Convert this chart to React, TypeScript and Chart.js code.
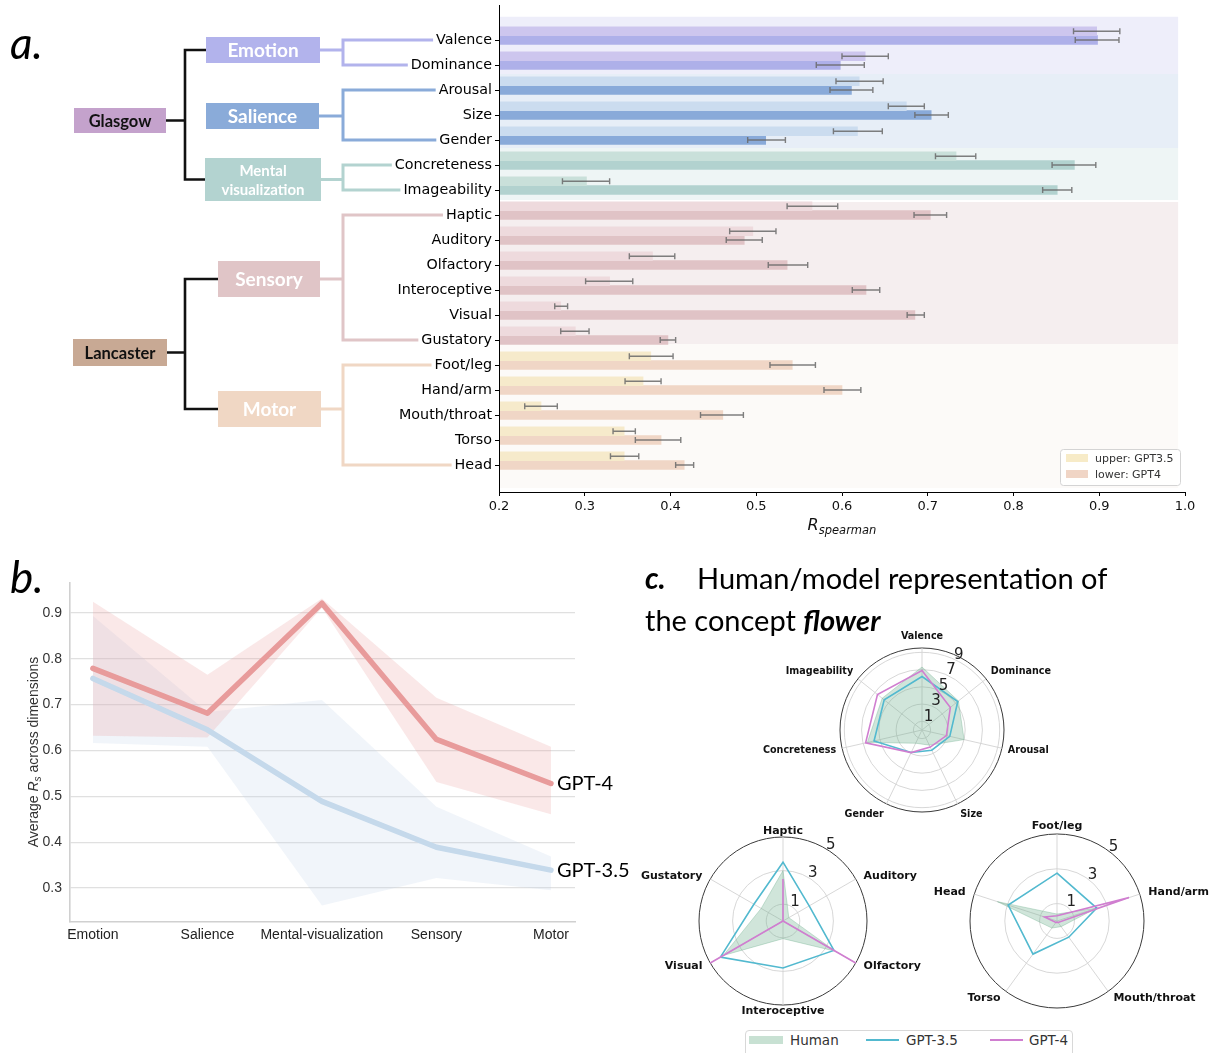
import React, { useEffect, useRef } from 'react';
import { Chart, registerables } from 'chart.js';

Chart.register(...registerables);

// ---------------- Panel a data ----------------
const dimensions = [
  'Valence', 'Dominance', 'Arousal', 'Size', 'Gender', 'Concreteness', 'Imageability',
  'Haptic', 'Auditory', 'Olfactory', 'Interoceptive', 'Visual', 'Gustatory',
  'Foot/leg', 'Hand/arm', 'Mouth/throat', 'Torso', 'Head',
];
const dimensionGroup = [0, 0, 1, 1, 1, 2, 2, 3, 3, 3, 3, 3, 3, 4, 4, 4, 4, 4];
const gpt35Values = [0.897, 0.627, 0.620, 0.675, 0.618, 0.733, 0.302, 0.565, 0.496, 0.379, 0.329, 0.272, 0.289, 0.377, 0.368, 0.249, 0.346, 0.346];
const gpt35Low = [0.870, 0.600, 0.593, 0.654, 0.590, 0.709, 0.274, 0.536, 0.469, 0.352, 0.301, 0.265, 0.272, 0.352, 0.347, 0.230, 0.333, 0.330];
const gpt35High = [0.924, 0.654, 0.648, 0.696, 0.647, 0.756, 0.329, 0.595, 0.523, 0.405, 0.356, 0.280, 0.305, 0.403, 0.389, 0.268, 0.359, 0.363];
const gpt4Values = [0.898, 0.598, 0.611, 0.704, 0.511, 0.871, 0.851, 0.703, 0.486, 0.536, 0.628, 0.685, 0.397, 0.542, 0.600, 0.461, 0.389, 0.416];
const gpt4Low = [0.872, 0.570, 0.586, 0.685, 0.490, 0.845, 0.834, 0.684, 0.465, 0.514, 0.612, 0.676, 0.388, 0.516, 0.579, 0.435, 0.359, 0.406];
const gpt4High = [0.923, 0.626, 0.636, 0.724, 0.534, 0.896, 0.868, 0.722, 0.507, 0.560, 0.644, 0.696, 0.406, 0.569, 0.622, 0.485, 0.412, 0.427];
const xTicksA = [0.2, 0.3, 0.4, 0.5, 0.6, 0.7, 0.8, 0.9, 1.0];

// ---------------- Panel b data ----------------
const levels = ['Emotion', 'Salience', 'Mental-visualization', 'Sensory', 'Motor'];
const gpt4Avg = [0.779, 0.681, 0.921, 0.624, 0.528];
const gpt4Upper = [0.924, 0.765, 0.931, 0.715, 0.608];
const gpt4Lower = [0.632, 0.628, 0.911, 0.531, 0.461];
const gpt35Avg = [0.757, 0.645, 0.489, 0.389, 0.339];
const gpt35Upper = [0.893, 0.684, 0.710, 0.477, 0.369];
const gpt35Lower = [0.616, 0.608, 0.262, 0.322, 0.295];
const yTicksB = [0.3, 0.4, 0.5, 0.6, 0.7, 0.8, 0.9];

// ---------------- Panel c data ----------------
const glasgowAxes = ['Valence', 'Dominance', 'Arousal', 'Size', 'Gender', 'Concreteness', 'Imageability'];
const humanGlasgow = [7.3, 5.4, 5.0, 1.95, 1.7, 6.5, 5.9];
const gpt35Glasgow = [6.2, 5.3, 3.3, 2.6, 2.9, 5.7, 5.6];
const gpt4Glasgow = [6.9, 4.2, 2.9, 2.2, 2.9, 6.7, 6.6];
const glasgowTicks = [1, 3, 5, 7, 9];

const sensoryAxes = ['Haptic', 'Auditory', 'Olfactory', 'Interoceptive', 'Visual', 'Gustatory'];
const humanSensory = [3.0, 0.4, 3.6, 1.05, 4.1, 1.5];
const gpt35Sensory = [3.5, 1.8, 3.5, 2.8, 4.3, 2.0];
const gpt4Sensory = [2.5, 0, 5, 0, 5, 0];

const motorAxes = ['Foot/leg', 'Hand/arm', 'Mouth/throat', 'Torso', 'Head'];
const humanMotor = [0.4, 2.4, 0.4, 0.5, 3.6];
const gpt35Motor = [2.75, 2.4, 1.15, 2.35, 2.95];
const gpt4Motor = [0.3, 4.35, 0.1, 0.1, 0.75];
const lancasterTicks = [1, 3, 5];

// ---------------- Styles / layout ----------------
const upperColors = ['#cdc6ee', '#cbdcef', '#c9e0da', '#eedadd', '#f6eacb'];
const lowerColors = ['#aeb0e9', '#89aad9', '#b2d2cf', '#e0c3c6', '#f0d6c6'];
const bandColors = ['#eeeefa', '#e7eef7', '#eef5f5', '#f5eeef', '#fcfaf8'];
const bandSpans = [[-0.93, 1.36], [1.36, 4.32], [4.32, 6.4], [6.48, 12.16], [12.16, 17.92]];
const BAND_X_END = 0.992;
const BAR_GROUP_SHIFT = 0.174;
const Y_LABEL_FONT = '14.3px "DejaVu Sans"';
const CYAN = '#52b9cf';
const MAGENTA = '#d07ed0';

const treeBoxes: any = {
  Glasgow: { x: 74, y: 108, w: 92, h: 25, fill: '#c4a2cc', lines: ['Glasgow'], color: '#111', size: 16.5 },
  Lancaster: { x: 73, y: 339, w: 94, h: 27, fill: '#c8a994', lines: ['Lancaster'], color: '#111', size: 16.5 },
  Emotion: { x: 206, y: 37, w: 114, h: 26, fill: '#b2b3ec', lines: ['Emotion'], color: '#fff', size: 19 },
  Salience: { x: 206, y: 103, w: 113, h: 26, fill: '#8aabd9', lines: ['Salience'], color: '#fff', size: 19 },
  Mental: { x: 205, y: 158, w: 116, h: 43, fill: '#b3d3d0', lines: ['Mental', 'visualization'], color: '#fff', size: 15 },
  Sensory: { x: 218, y: 261, w: 102, h: 36, fill: '#e0c5c7', lines: ['Sensory'], color: '#fff', size: 19 },
  Motor: { x: 218, y: 391, w: 103, h: 36, fill: '#f0d7c4', lines: ['Motor'], color: '#fff', size: 19 },
};
const leafGroups = [
  { box: 'Emotion', first: 0, last: 1 },
  { box: 'Salience', first: 2, last: 4 },
  { box: 'Mental', first: 5, last: 6 },
  { box: 'Sensory', first: 7, last: 12 },
  { box: 'Motor', first: 13, last: 17 },
];
const trunks = [
  { root: 'Glasgow', top: 'Emotion', bottom: 'Mental' },
  { root: 'Lancaster', top: 'Sensory', bottom: 'Motor' },
];
const BRACKET_X = 343;
const TRUNK_X = 185;

// ---------------- Panel a plugins ----------------
const bandsPlugin = {
  id: 'bands',
  beforeDatasetsDraw(chart: any) {
    const { ctx, scales: { x, y } } = chart;
    ctx.save();
    bandSpans.forEach((sp, i) => {
      const x0 = x.getPixelForValue(0.2) + 1;
      const x1 = x.getPixelForValue(BAND_X_END);
      const y0 = y.getPixelForValue(sp[0]);
      const y1 = y.getPixelForValue(sp[1]);
      ctx.fillStyle = bandColors[i];
      ctx.fillRect(x0, y0, x1 - x0, y1 - y0);
    });
    ctx.restore();
  },
};

const errorBarPlugin = {
  id: 'errorBars',
  afterDatasetsDraw(chart: any) {
    const { ctx, scales: { x } } = chart;
    const series = [[gpt35Low, gpt35High], [gpt4Low, gpt4High]];
    ctx.save();
    ctx.strokeStyle = 'rgba(105,105,105,0.85)';
    ctx.lineWidth = 1.4;
    series.forEach(([lo, hi], d) => {
      const meta = chart.getDatasetMeta(d);
      meta.data.forEach((bar: any, i: number) => {
        const yy = bar.y;
        const x0 = x.getPixelForValue(lo[i]);
        const x1 = x.getPixelForValue(hi[i]);
        ctx.beginPath();
        ctx.moveTo(x0, yy); ctx.lineTo(x1, yy);
        ctx.moveTo(x0, yy - 3); ctx.lineTo(x0, yy + 3);
        ctx.moveTo(x1, yy - 3); ctx.lineTo(x1, yy + 3);
        ctx.stroke();
      });
    });
    ctx.restore();
  },
};

function drawBox(ctx: any, b: any) {
  ctx.fillStyle = b.fill;
  ctx.fillRect(b.x, b.y, b.w, b.h);
  ctx.fillStyle = b.color;
  ctx.font = `bold ${b.size}px Lato`;
  ctx.textAlign = 'center';
  ctx.textBaseline = 'middle';
  const cx = b.x + b.w / 2;
  const n = b.lines.length;
  const lh = b.size * 1.3;
  b.lines.forEach((t: string, k: number) => {
    ctx.fillText(t, cx, b.y + b.h / 2 + (k - (n - 1) / 2) * lh + 1);
  });
}

const treePlugin = {
  id: 'tree',
  afterDraw(chart: any) {
    const { ctx, scales: { y }, chartArea } = chart;
    ctx.save();
    ctx.strokeStyle = '#000';
    ctx.lineWidth = 1;
    ctx.beginPath();
    ctx.moveTo(chartArea.left + 0.5, chartArea.top);
    ctx.lineTo(chartArea.left + 0.5, chartArea.bottom);
    ctx.stroke();

    const labelRight = chartArea.left - 7;
    ctx.font = Y_LABEL_FONT;
    ctx.lineJoin = 'miter';
    leafGroups.forEach((g) => {
      const b = treeBoxes[g.box];
      const cy = b.y + b.h / 2;
      const y1 = y.getPixelForValue(g.first);
      const y2 = y.getPixelForValue(g.last);
      const e1 = labelRight - ctx.measureText(dimensions[g.first]).width - 3;
      const e2 = labelRight - ctx.measureText(dimensions[g.last]).width - 3;
      ctx.strokeStyle = b.fill;
      ctx.lineWidth = 3;
      ctx.beginPath();
      ctx.moveTo(e1, y1); ctx.lineTo(BRACKET_X, y1); ctx.lineTo(BRACKET_X, y2); ctx.lineTo(e2, y2);
      ctx.moveTo(b.x + b.w, cy); ctx.lineTo(BRACKET_X, cy);
      ctx.stroke();
    });
    trunks.forEach((t) => {
      const r = treeBoxes[t.root];
      const tb = treeBoxes[t.top];
      const bb = treeBoxes[t.bottom];
      const ty = tb.y + tb.h / 2;
      const by = bb.y + bb.h / 2;
      ctx.strokeStyle = '#111';
      ctx.lineWidth = 2.6;
      ctx.beginPath();
      ctx.moveTo(tb.x, ty); ctx.lineTo(TRUNK_X, ty); ctx.lineTo(TRUNK_X, by); ctx.lineTo(bb.x, by);
      ctx.moveTo(r.x + r.w, r.y + r.h / 2); ctx.lineTo(TRUNK_X, r.y + r.h / 2);
      ctx.stroke();
    });
    Object.keys(treeBoxes).forEach((k) => drawBox(ctx, treeBoxes[k]));

    ctx.fillStyle = '#000';
    ctx.font = 'italic 44px Lato';
    ctx.textAlign = 'left';
    ctx.textBaseline = 'alphabetic';
    ctx.fillText('a.', 10, 59);

    const cx = (chartArea.left + chartArea.right) / 2;
    ctx.font = 'italic 16px "DejaVu Sans"';
    const wR = ctx.measureText('R').width;
    ctx.font = 'italic 11.5px "DejaVu Sans"';
    const wS = ctx.measureText('spearman').width;
    const sx = cx - (wR + wS) / 2;
    ctx.fillStyle = '#111';
    ctx.font = 'italic 16px "DejaVu Sans"';
    ctx.fillText('R', sx, 530);
    ctx.font = 'italic 11.5px "DejaVu Sans"';
    ctx.fillText('spearman', sx + wR, 534);

    const lx = 1060, ly = 449;
    ctx.fillStyle = 'rgba(255,255,255,0.85)';
    ctx.strokeStyle = '#d4d4d4';
    ctx.lineWidth = 1;
    ctx.beginPath();
    ctx.roundRect(lx + 0.5, ly + 0.5, 120, 36, 3);
    ctx.fill();
    ctx.stroke();
    ctx.fillStyle = '#f7ebc7';
    ctx.fillRect(lx + 6, ly + 5, 22, 8);
    ctx.fillStyle = '#f0d5c5';
    ctx.fillRect(lx + 6, ly + 21, 22, 8);
    ctx.fillStyle = '#333';
    ctx.font = '11px "DejaVu Sans"';
    ctx.textBaseline = 'middle';
    ctx.fillText('upper: GPT3.5', lx + 35, ly + 10);
    ctx.fillText('lower: GPT4', lx + 35, ly + 26);
    ctx.restore();
  },
};

function makeBarConfig(): any {
  return {
    type: 'bar',
    data: {
      datasets: [
        {
          label: 'upper: GPT3.5',
          data: dimensions.map((_, i) => ({ x: gpt35Values[i], y: i - BAR_GROUP_SHIFT })),
          backgroundColor: dimensions.map((_, i) => upperColors[dimensionGroup[i]]),
          barThickness: 8.7,
          base: 0.2,
          borderWidth: 0,
        },
        {
          label: 'lower: GPT4',
          data: dimensions.map((_, i) => ({ x: gpt4Values[i], y: i - BAR_GROUP_SHIFT })),
          backgroundColor: dimensions.map((_, i) => lowerColors[dimensionGroup[i]]),
          barThickness: 8.7,
          base: 0.2,
          borderWidth: 0,
        },
      ],
    },
    options: {
      indexAxis: 'y',
      animation: false,
      responsive: false,
      layout: { padding: { top: 5, right: 35, left: 0, bottom: 0 } },
      plugins: { legend: { display: false }, tooltip: { enabled: false } },
      scales: {
        x: {
          type: 'linear', min: 0.2, max: 1.0,
          afterBuildTicks: (s: any) => { s.ticks = xTicksA.map((v) => ({ value: v })); },
          ticks: { callback: (v: any) => Number(v).toFixed(1), font: { family: '"DejaVu Sans"', size: 13 }, color: '#111', padding: 3, maxRotation: 0, autoSkip: false },
          grid: { display: true, drawOnChartArea: false, drawTicks: true, tickLength: 4, color: '#000', lineWidth: 1, offset: false },
          border: { display: true, color: '#000', width: 1 },
          afterFit: (s: any) => { s.height = 53; },
        },
        y: {
          type: 'linear', reverse: true, min: -1.4, max: 18.08, offset: false,
          afterBuildTicks: (s: any) => { s.ticks = dimensions.map((_, i) => ({ value: i })); },
          ticks: { callback: (v: any) => dimensions[v] ?? '', autoSkip: false, font: { family: '"DejaVu Sans"', size: 14.3 }, color: '#000', padding: 3 },
          grid: { display: true, drawOnChartArea: false, drawTicks: true, tickLength: 4, color: '#000', lineWidth: 1, offset: false },
          border: { display: true, color: '#000', width: 1 },
          afterFit: (s: any) => { s.width = 499; s.paddingTop = 0; s.paddingBottom = 0; },
        },
      },
    },
    plugins: [bandsPlugin, errorBarPlugin, treePlugin],
  };
}

// ---------------- Panel b ----------------
const B_TOP = 555;
const pts = (arr: number[]) => arr.map((v, i) => ({ x: i, y: v }));

const bLabelsPlugin = {
  id: 'bLabels',
  afterDraw(chart: any) {
    const { ctx, scales: { x, y } } = chart;
    ctx.save();
    ctx.fillStyle = '#000';
    ctx.font = '20px Lato';
    ctx.textBaseline = 'middle';
    ctx.textAlign = 'left';
    const last = levels.length - 1;
    const xe = x.getPixelForValue(last) + 6;
    ctx.fillText('GPT-4', xe, y.getPixelForValue(gpt4Avg[last]));
    ctx.fillText('GPT-3.5', xe, y.getPixelForValue(gpt35Avg[last]));

    ctx.font = 'italic 44px Lato';
    ctx.textBaseline = 'alphabetic';
    ctx.fillText('b.', 10, 593 - B_TOP);

    ctx.translate(33, 752 - B_TOP);
    ctx.rotate(-Math.PI / 2);
    ctx.fillStyle = '#333';
    const f1 = '14px "Liberation Sans"';
    const fi = 'italic 14px "Liberation Sans"';
    const fs = 'italic 10px "Liberation Sans"';
    const p1 = 'Average ', p2 = 'R', p3 = 's', p4 = ' across dimensions';
    ctx.font = f1; const w1 = ctx.measureText(p1).width; const w4 = ctx.measureText(p4).width;
    ctx.font = fi; const w2 = ctx.measureText(p2).width;
    ctx.font = fs; const w3 = ctx.measureText(p3).width;
    let px = -(w1 + w2 + w3 + w4) / 2;
    ctx.textBaseline = 'alphabetic';
    ctx.font = f1; ctx.fillText(p1, px, 5); px += w1;
    ctx.font = fi; ctx.fillText(p2, px, 5); px += w2;
    ctx.font = fs; ctx.fillText(p3, px, 8); px += w3;
    ctx.font = f1; ctx.fillText(p4, px, 5);
    ctx.restore();
  },
};

function makeLineConfig(): any {
  const band = { borderWidth: 0, pointRadius: 0, tension: 0 };
  return {
    type: 'line',
    data: {
      datasets: [
        { label: 'GPT-4', data: pts(gpt4Avg), borderColor: '#e89b9b', borderWidth: 5.5, pointRadius: 0, fill: false, tension: 0, order: 0, borderJoinStyle: 'round', borderCapStyle: 'round' },
        { label: 'GPT-3.5', data: pts(gpt35Avg), borderColor: '#c5d9eb', borderWidth: 5.5, pointRadius: 0, fill: false, tension: 0, order: 1, borderJoinStyle: 'round', borderCapStyle: 'round' },
        { ...band, data: pts(gpt4Upper), fill: '+1', backgroundColor: 'rgba(232,150,150,0.22)', order: 2 },
        { ...band, data: pts(gpt4Lower), fill: false, order: 2 },
        { ...band, data: pts(gpt35Upper), fill: '+1', backgroundColor: 'rgba(190,210,230,0.22)', order: 3 },
        { ...band, data: pts(gpt35Lower), fill: false, order: 3 },
      ],
    },
    options: {
      animation: false,
      responsive: false,
      layout: { padding: { top: 28, right: 65, left: 0, bottom: 0 } },
      plugins: { legend: { display: false }, tooltip: { enabled: false } },
      scales: {
        x: {
          type: 'linear', min: -0.2, max: 4.21,
          afterBuildTicks: (s: any) => { s.ticks = levels.map((_, i) => ({ value: i })); },
          ticks: { callback: (v: any) => levels[v] ?? '', font: { family: '"Liberation Sans"', size: 14 }, color: '#222', padding: 5, maxRotation: 0, autoSkip: false },
          grid: { display: false, drawTicks: false, tickLength: 0 },
          border: { display: true, color: '#d0d0d0', width: 1.6 },
          afterFit: (s: any) => { s.height = 28; },
        },
        y: {
          type: 'linear', min: 0.226, max: 0.965,
          afterBuildTicks: (s: any) => { s.ticks = yTicksB.map((v) => ({ value: v })); },
          ticks: { callback: (v: any) => Number(v).toFixed(1), font: { family: '"Liberation Sans"', size: 14 }, color: '#333', padding: 8 },
          grid: { display: true, drawTicks: false, color: '#e0e0e0', lineWidth: 1.2 },
          border: { display: true, color: '#d0d0d0', width: 1.6 },
          afterFit: (s: any) => { s.width = 70; },
        },
      },
    },
    plugins: [bLabelsPlugin],
  };
}

// ---------------- Panel c ----------------
const radarTextPlugin = {
  id: 'radarText',
  afterDraw(chart: any, _args: any, opts: any) {
    const s = chart.scales.r;
    const ctx = chart.ctx;
    ctx.save();
    ctx.fillStyle = '#111';
    ctx.font = `bold ${opts.labelSize}px "DejaVu Sans"`;
    (chart.data.labels as string[]).forEach((lab, i) => {
      const p = s.getPointPosition(i, s.drawingArea);
      const a = p.angle + Math.PI / 2;
      const sn = Math.sin(a), cs = Math.cos(a);
      const px = s.xCenter + sn * (s.drawingArea + opts.gapX);
      const py = s.yCenter - cs * (s.drawingArea + opts.gapY) - cs * 6;
      ctx.textAlign = Math.abs(sn) < 0.05 ? 'center' : sn > 0 ? 'left' : 'right';
      ctx.textBaseline = 'middle';
      ctx.fillText(lab, px, py);
    });
    ctx.font = '15px "DejaVu Sans"';
    ctx.fillStyle = '#222';
    ctx.textAlign = 'center';
    ctx.textBaseline = 'middle';
    const ta = (opts.tickAngle * Math.PI) / 180;
    opts.tickValues.forEach((v: number) => {
      const r = s.getDistanceFromCenterForValue(v) + opts.tickGap;
      ctx.fillText(String(v), s.xCenter + r * Math.sin(ta), s.yCenter - r * Math.cos(ta));
    });

    if (opts.title) {
      const ox = opts.origin.x, oy = opts.origin.y;
      ctx.textAlign = 'left';
      ctx.textBaseline = 'alphabetic';
      ctx.fillStyle = '#000';
      ctx.font = 'italic bold 30px Lato';
      ctx.fillText('c.', 645 - ox, 589 - oy);
      ctx.font = '29px Lato';
      ctx.fillText('Human/model representation of', 697 - ox, 589 - oy);
      const t1 = 'the concept ';
      ctx.fillText(t1, 645 - ox, 631 - oy);
      const w = ctx.measureText(t1).width;
      ctx.font = 'italic bold 29px Lato';
      ctx.fillText('flower', 645 - ox + w, 631 - oy);
    }
    ctx.restore();
  },
};

function makeRadarConfig(axes: string[], human: number[], gpt35: number[], gpt4: number[], gridValues: number[], outer: number, textOpts: any, padding: any): any {
  const isOuter = (c: any) => c.tick && Math.abs(c.tick.value - outer) < 1e-6;
  return {
    type: 'radar',
    data: {
      labels: axes,
      datasets: [
        { label: 'GPT-4', data: gpt4, borderColor: MAGENTA, borderWidth: 1.6, fill: false, pointRadius: 0 },
        { label: 'GPT-3.5', data: gpt35, borderColor: CYAN, borderWidth: 1.6, fill: false, pointRadius: 0 },
        { label: 'Human', data: human, borderColor: 'rgba(110,175,140,0.45)', borderWidth: 0.8, backgroundColor: 'rgba(110,175,140,0.32)', fill: true, pointRadius: 0 },
      ],
    },
    options: {
      animation: false,
      responsive: false,
      layout: { padding },
      elements: { line: { tension: 0 } },
      plugins: { legend: { display: false }, tooltip: { enabled: false }, radarText: textOpts },
      scales: {
        r: {
          min: 0, max: outer,
          afterBuildTicks: (s: any) => { s.ticks = [0, ...gridValues, outer].map((v) => ({ value: v })); },
          ticks: { display: false },
          pointLabels: { display: false },
          angleLines: { color: '#d2d2d2', lineWidth: 0.9 },
          grid: {
            circular: true,
            color: (c: any) => (isOuter(c) ? '#3a3a3a' : '#d2d2d2'),
            lineWidth: (c: any) => (isOuter(c) ? 1 : 0.9),
          },
        },
      },
    },
    plugins: [radarTextPlugin],
  };
}

// ---------------- Components ----------------
function ChartCanvas({ make, left, top, width, height }: any) {
  const ref = useRef<HTMLCanvasElement>(null);
  useEffect(() => {
    const chart = new Chart(ref.current as HTMLCanvasElement, make());
    return () => chart.destroy();
  }, []);
  return (
    <canvas
      ref={ref}
      width={width}
      height={height}
      style={{ position: 'absolute', left, top, width, height }}
    />
  );
}

function LegendC() {
  const text: any = { position: 'absolute', top: 1, lineHeight: '16px', whiteSpace: 'nowrap' };
  return (
    <div
      style={{
        position: 'absolute', left: 745, top: 1030, width: 328, height: 34,
        border: '1px solid #d8d8d8', borderRadius: 4, boxSizing: 'border-box',
        fontFamily: '"DejaVu Sans"', fontSize: 13.5, color: '#333', background: '#fff',
      }}
    >
      <div style={{ position: 'absolute', left: 3, top: 5, width: 34, height: 8, background: 'rgba(110,175,140,0.38)' }} />
      <span style={{ ...text, left: 44 }}>Human</span>
      <div style={{ position: 'absolute', left: 120, top: 8, width: 33, height: 1.6, background: CYAN }} />
      <span style={{ ...text, left: 160 }}>GPT-3.5</span>
      <div style={{ position: 'absolute', left: 244, top: 8, width: 33, height: 1.6, background: MAGENTA }} />
      <span style={{ ...text, left: 283 }}>GPT-4</span>
    </div>
  );
}

export default function App() {
  return (
    <div style={{ position: 'absolute', left: 0, top: 0, width: 1220, height: 1053, background: '#fff', overflow: 'hidden' }}>
      <ChartCanvas make={makeBarConfig} left={0} top={0} width={1220} height={545} />
      <ChartCanvas make={makeLineConfig} left={0} top={B_TOP} width={640} height={395} />
      <ChartCanvas
        make={() => makeRadarConfig(glasgowAxes, humanGlasgow, gpt35Glasgow, gpt4Glasgow, glasgowTicks, 9.5,
          { labelSize: 9.6, gapX: 6, gapY: 6, tickValues: glasgowTicks, tickAngle: 26, tickGap: 6, title: true, origin: { x: 640, y: 560 } },
          { left: 200, right: 116, top: 88, bottom: 13 })}
        left={640} top={560} width={480} height={265}
      />
      <ChartCanvas
        make={() => makeRadarConfig(sensoryAxes, humanSensory, gpt35Sensory, gpt4Sensory, [1, 3], 5,
          { labelSize: 11, gapX: 9, gapY: 0, tickValues: lancasterTicks, tickAngle: 32, tickGap: 6 },
          { left: 64, right: 68, top: 19, bottom: 15 })}
        left={635} top={818} width={300} height={202}
      />
      <ChartCanvas
        make={() => makeRadarConfig(motorAxes, humanMotor, gpt35Motor, gpt4Motor, [1, 3], 5,
          { labelSize: 11, gapX: 9, gapY: 2, tickValues: lancasterTicks, tickAngle: 37.5, tickGap: 6 },
          { left: 50, right: 76, top: 22, bottom: 12 })}
        left={920} top={812} width={300} height={208}
      />
      <LegendC />
    </div>
  );
}
